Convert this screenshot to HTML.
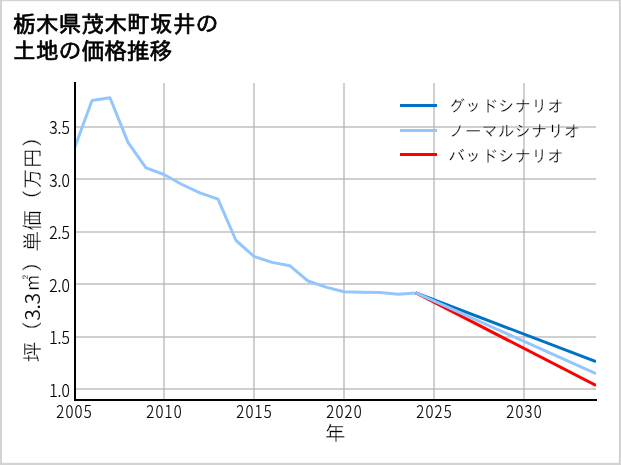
<!DOCTYPE html>
<html lang="ja">
<head>
<meta charset="utf-8">
<title>栃木県茂木町坂井の土地の価格推移</title>
<style>
html,body{margin:0;padding:0;background:#fff;}
body{width:621px;height:465px;overflow:hidden;}
svg{display:block;will-change:transform;}
.title{font-family:"Liberation Sans","IPAGothic","Noto Sans CJK JP",sans-serif;font-size:22.8px;fill:#000;stroke:#000;stroke-width:0.7px;}
.tick{font-family:"Noto Sans CJK JP Light","Noto Sans CJK JP","Liberation Sans",sans-serif;font-size:16.5px;fill:#000;stroke:#000;stroke-width:0.2px;}
.lab{font-family:"Liberation Sans","IPAGothic","Noto Sans CJK JP",sans-serif;font-size:20.8px;fill:#000;stroke:#fff;stroke-width:0.35px;}
.num{font-family:"Noto Sans CJK JP Light","Noto Sans CJK JP","Liberation Sans",sans-serif;stroke:#000;stroke-width:0.2px;fill:#000;}
.leg{font-family:"Liberation Sans","IPAGothic","Noto Sans CJK JP",sans-serif;font-size:16.5px;fill:#000;stroke:#fff;stroke-width:0.3px;}
</style>
</head>
<body>
<svg width="621" height="465" viewBox="0 0 621 465">
<rect x="0" y="0" width="621" height="465" fill="#d3d3d3"/>
<rect x="2" y="1.2" width="616.9" height="461.6" fill="#fff"/>

<text class="title" x="13" y="31.9">栃木県茂木町坂井の</text>
<text class="title" x="13" y="59">土地の価格推移</text>

<g stroke="#b0b0b0" stroke-opacity="0.6" stroke-width="2" fill="none">
<line x1="76" y1="389" x2="596" y2="389"/>
<line x1="76" y1="337" x2="596" y2="337"/>
<line x1="76" y1="284" x2="596" y2="284"/>
<line x1="76" y1="232" x2="596" y2="232"/>
<line x1="76" y1="179" x2="596" y2="179"/>
<line x1="76" y1="127" x2="596" y2="127"/>
<line x1="164" y1="83" x2="164" y2="399"/>
<line x1="254" y1="83" x2="254" y2="399"/>
<line x1="344" y1="83" x2="344" y2="399"/>
<line x1="434" y1="83" x2="434" y2="399"/>
<line x1="524" y1="83" x2="524" y2="399"/>
</g>

<clipPath id="ax"><rect x="74" y="83" width="522" height="317"/></clipPath>
<g clip-path="url(#ax)" fill="none" stroke-width="3" stroke-linejoin="round">
<polyline stroke="#94c6fe" points="74,149.5 92,100.4 110,97.7 128,142.4 146,167.8 164,174.5 182,184.5 200,192.9 218,199.2 236,240.5 254,256.3 272,262.4 290,265.8 308,281 326,287.1 344,291.7 362,292.3 380,292.6 398,294.2 416,292.9"/>
<line stroke="#0071c5" x1="416" y1="292.9" x2="596" y2="361.6"/>
<line stroke="#ff0000" x1="416" y1="292.9" x2="596" y2="385.4"/>
<line stroke="#94c6fe" x1="416" y1="292.9" x2="596" y2="373.7"/>
</g>

<g stroke="#000" stroke-width="2" fill="none">
<line x1="75" y1="82" x2="75" y2="401"/>
<line x1="74" y1="400" x2="597" y2="400"/>
</g>

<g class="tick" text-anchor="end">
<text transform="translate(69.9,397) scale(0.95,1.08)">1.0</text>
<text transform="translate(69.9,343.9) scale(0.95,1.08)">1.5</text>
<text transform="translate(69.9,291.8) scale(0.95,1.08)">2.0</text>
<text transform="translate(69.9,238.8) scale(0.95,1.08)">2.5</text>
<text transform="translate(69.9,186.8) scale(0.95,1.08)">3.0</text>
<text transform="translate(69.9,133.8) scale(0.95,1.08)">3.5</text>
</g>
<g class="tick" text-anchor="middle">
<text transform="translate(74.63,418) scale(0.9,1.08)" letter-spacing="1.4">2005</text>
<text transform="translate(164.63,418) scale(0.9,1.08)" letter-spacing="1.4">2010</text>
<text transform="translate(254.63,418) scale(0.9,1.08)" letter-spacing="1.4">2015</text>
<text transform="translate(344.63,418) scale(0.9,1.08)" letter-spacing="1.4">2020</text>
<text transform="translate(434.63,418) scale(0.9,1.08)" letter-spacing="1.4">2025</text>
<text transform="translate(524.63,418) scale(0.9,1.08)" letter-spacing="1.4">2030</text>
</g>

<text class="lab" x="335" y="440.5" text-anchor="middle">年</text>
<text class="lab" transform="translate(40,244.5) rotate(-90)" text-anchor="middle">坪（<tspan class="num">3.3</tspan>㎡）単価（万円）</text>

<g stroke-width="3">
<line stroke="#0071c5" x1="400" y1="105.5" x2="437" y2="105.5"/>
<line stroke="#94c6fe" x1="400" y1="130.5" x2="437" y2="130.5"/>
<line stroke="#ff0000" x1="400" y1="154.5" x2="437" y2="154.5"/>
</g>
<g class="leg">
<text x="448.5" y="112.3">グッドシナリオ</text>
<text x="448.5" y="137.2">ノーマルシナリオ</text>
<text x="448.5" y="161.8">バッドシナリオ</text>
</g>
</svg>
</body>
</html>
